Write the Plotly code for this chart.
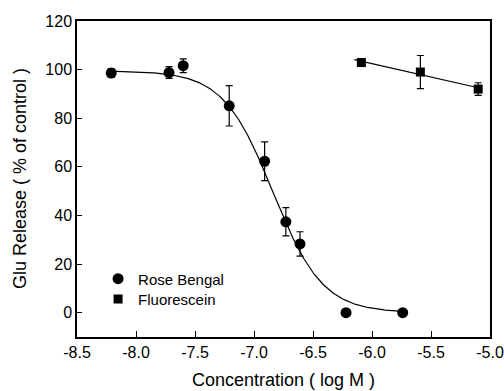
import numpy as np
import plotly.graph_objects as go

# Rose Bengal data
rb_x = [-8.21, -7.72, -7.60, -7.21, -6.91, -6.73, -6.61, -6.22, -5.74]
rb_y = [98.6, 98.8, 101.6, 85.1, 62.3, 37.4, 28.3, 0.0, 0.0]
rb_err = [1.8, 2.4, 2.8, 8.3, 8.0, 5.8, 5.0, 0.0, 0.0]

# Fluorescein data
fl_x = [-6.09, -5.59, -5.10]
fl_y = [102.9, 99.0, 92.0]
fl_err = [1.6, 6.8, 2.6]

# Sigmoid fit parameters (Hill) for Rose Bengal
hill_top = 99.5
hill_bottom = 0.0
hill_logic50 = -6.84
hill_slope = 2.06

x_ticks = [-8.5, -8.0, -7.5, -7.0, -6.5, -6.0, -5.5, -5.0]
y_ticks = [0, 20, 40, 60, 80, 100, 120]

font = "Liberation Sans, Arial, sans-serif"

fig = go.Figure()

# fitted sigmoid curve
cx = np.linspace(min(rb_x), max(rb_x), 300)
cy = hill_bottom + (hill_top - hill_bottom) / (1 + 10 ** ((cx - hill_logic50) * hill_slope))
fig.add_trace(go.Scatter(x=cx, y=cy, mode="lines", line=dict(color="black", width=1.2),
                         showlegend=False, hoverinfo="skip"))

# linear fit for fluorescein
coef = np.polyfit(fl_x, fl_y, 1)
lx = np.array([min(fl_x) - 0.06, max(fl_x)])
fig.add_trace(go.Scatter(x=lx, y=np.polyval(coef, lx), mode="lines",
                         line=dict(color="black", width=1.2), showlegend=False, hoverinfo="skip"))

fig.add_trace(go.Scatter(
    x=rb_x, y=rb_y, mode="markers", name="Rose Bengal", legend="legend",
    marker=dict(symbol="circle", size=11, color="black"),
    error_y=dict(type="data", array=rb_err, color="black", thickness=1.2, width=3.5),
))
fig.add_trace(go.Scatter(
    x=fl_x, y=fl_y, mode="markers", name="Fluorescein", legend="legend2",
    marker=dict(symbol="square", size=9, color="black"),
    error_y=dict(type="data", array=fl_err, color="black", thickness=1.2, width=3.5),
))

axis_common = dict(showline=True, linecolor="black", linewidth=1.5, mirror=True,
                   ticks="inside", tickcolor="black", tickwidth=1.2, showgrid=False,
                   zeroline=False, automargin=False,
                   tickfont=dict(family=font, size=16, color="black"))

fig.update_xaxes(range=[-8.5, -5.0], tickvals=x_ticks,
                 ticktext=[f"{v:.1f}" for v in x_ticks], ticklen=6, **axis_common)
fig.update_yaxes(range=[-10, 120], tickvals=y_ticks, ticklen=5, **axis_common)

title_font = dict(family=font, size=18, color="black")
fig.add_annotation(text="Concentration ( log M )", xref="paper", yref="paper",
                   x=0.5, y=-0.136, xanchor="center", yanchor="middle",
                   showarrow=False, font=title_font)
fig.add_annotation(text="Glu Release ( % of control )", xref="paper", yref="paper",
                   x=-0.138, y=0.5, xanchor="center", yanchor="middle", textangle=-90,
                   showarrow=False, font=title_font)

leg_common = dict(xanchor="left", yanchor="top", bgcolor="rgba(0,0,0,0)",
                  font=dict(family=font, size=15, color="black"))
fig.update_layout(
    width=504, height=391,
    margin=dict(l=77, r=14, t=21, b=54),
    plot_bgcolor="white", paper_bgcolor="white",
    legend=dict(x=0.051, y=0.236, **leg_common),
    legend2=dict(x=0.051, y=0.172, **leg_common),
)

fig.write_html("out.html")
